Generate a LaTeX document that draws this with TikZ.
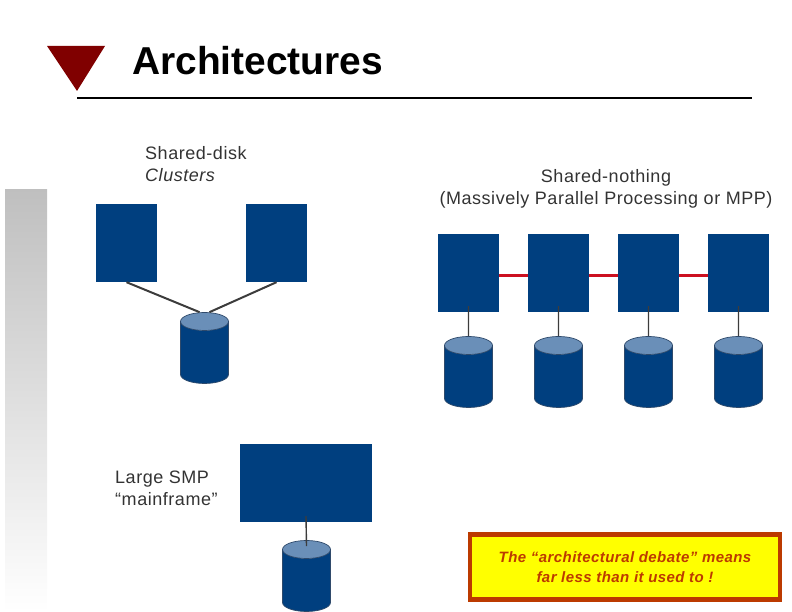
\documentclass[tikz,border=0pt]{standalone}
\usepackage{fontspec}
\setmainfont{Liberation Sans}
\newfontfamily\labelfont[LetterSpace=3]{Liberation Sans}
\usepackage{xcolor}
\usetikzlibrary{positioning, shapes.geometric}
\definecolor{box_blue}{HTML}{003F7F}
\definecolor{disk_top}{HTML}{6A8FB8}
\definecolor{disk_edge}{HTML}{2F4A6B}
\definecolor{link_grey}{HTML}{3C3C3C}
\definecolor{link_red}{HTML}{CC1020}
\definecolor{note_red}{HTML}{BC3A00}
\definecolor{note_fill}{HTML}{FFFF00}
\definecolor{title_red}{HTML}{800000}

\begin{document}
\begin{tikzpicture}[
  x=1pt, y=1pt,
  server_box/.style={rectangle, fill=box_blue, inner sep=0pt, minimum width=61pt, minimum height=78pt},
  disk/.style={cylinder, shape border rotate=90, aspect=2.7, anchor=shape center, draw=disk_edge, line width=0.7pt, cylinder uses custom fill, cylinder body fill=box_blue, cylinder end fill=disk_top, minimum width=48pt, minimum height=71pt},
  bus_link/.style={draw=link_grey, line width=2pt},
  net_link/.style={draw=link_red, line width=3pt},
  caption/.style={align=left, text=black!80, font=\labelfont\fontsize{18}{22}\selectfont, inner sep=0pt}
]

  \useasboundingbox (0,0) rectangle (792,612);

  % Title and side bar
  \shade[top color=black!25, bottom color=white] (5,422) rectangle (47,0);
  \fill[title_red] (47,566) -- (105,566) -- (77,521) -- cycle;
  \node (title) [font=\bfseries\fontsize{38.9}{40}\selectfont, anchor=west, inner sep=0pt] at (132,551) {Architectures};
  \coordinate (rule_a) at (77,514);
  \coordinate (rule_b) at (752,514);
  \draw[line width=1.6pt] (rule_a) -- (rule_b);

  % Shared disk
  \node (sd_text) [caption, anchor=west] at (145,448) {Shared-disk\\\textit{Clusters}};
  \node (sd_a) [server_box] at (126.5,369) {};
  \node (sd_b) [server_box] at (276.5,369) {};
  \node (sd_disk) [disk] at (204.5,264) {};
  \draw[bus_link] (sd_a.south) -- ([xshift=-5pt]sd_disk.north);
  \draw[bus_link] (sd_b.south) -- ([xshift=5pt]sd_disk.north);

  % Shared nothing
  \node (sn_text) [caption, align=center] at (606,423) {Shared-nothing\\(Massively Parallel Processing or MPP)};
  \node (sn_a) [server_box] at (468.5,339) {};
  \node (sn_b) [server_box] at (558.5,339) {};
  \node (sn_c) [server_box] at (648.5,339) {};
  \node (sn_d) [server_box] at (738.5,339) {};
  \node (disk_a) [disk] at (468.5,240) {};
  \node (disk_b) [disk] at (558.5,240) {};
  \node (disk_c) [disk] at (648.5,240) {};
  \node (disk_d) [disk] at (738.5,240) {};
  \foreach \x in {a,b,c,d}
    \draw[bus_link, line width=1.4pt] ([yshift=6pt]sn_\x.south) -- (disk_\x.north);
  \draw[net_link] ([yshift=-3pt]sn_a.east) -- ([yshift=-3pt]sn_b.west);
  \draw[net_link] ([yshift=-3pt]sn_b.east) -- ([yshift=-3pt]sn_c.west);
  \draw[net_link] ([yshift=-3pt]sn_c.east) -- ([yshift=-3pt]sn_d.west);

  % Mainframe
  \node (smp_text) [caption, anchor=west] at (115,124) {Large SMP\\“mainframe”};
  \node (smp) [server_box, minimum width=132pt] at (306,129) {};
  \node (smp_disk) [disk] at (306.5,36) {};
  \draw[bus_link, line width=1.4pt] ([yshift=6pt]smp.south) -- ([yshift=-6pt]smp_disk.north);

  % Note
  \node (note) [rectangle, draw=note_red, fill=note_fill, line width=4.4pt, minimum width=310pt, minimum height=65pt, align=center, text=note_red, font=\labelfont\bfseries\itshape\fontsize{15}{20}\selectfont] at (625,45) {The “architectural debate” means\\far less than it used to !};

\end{tikzpicture}
\end{document}
